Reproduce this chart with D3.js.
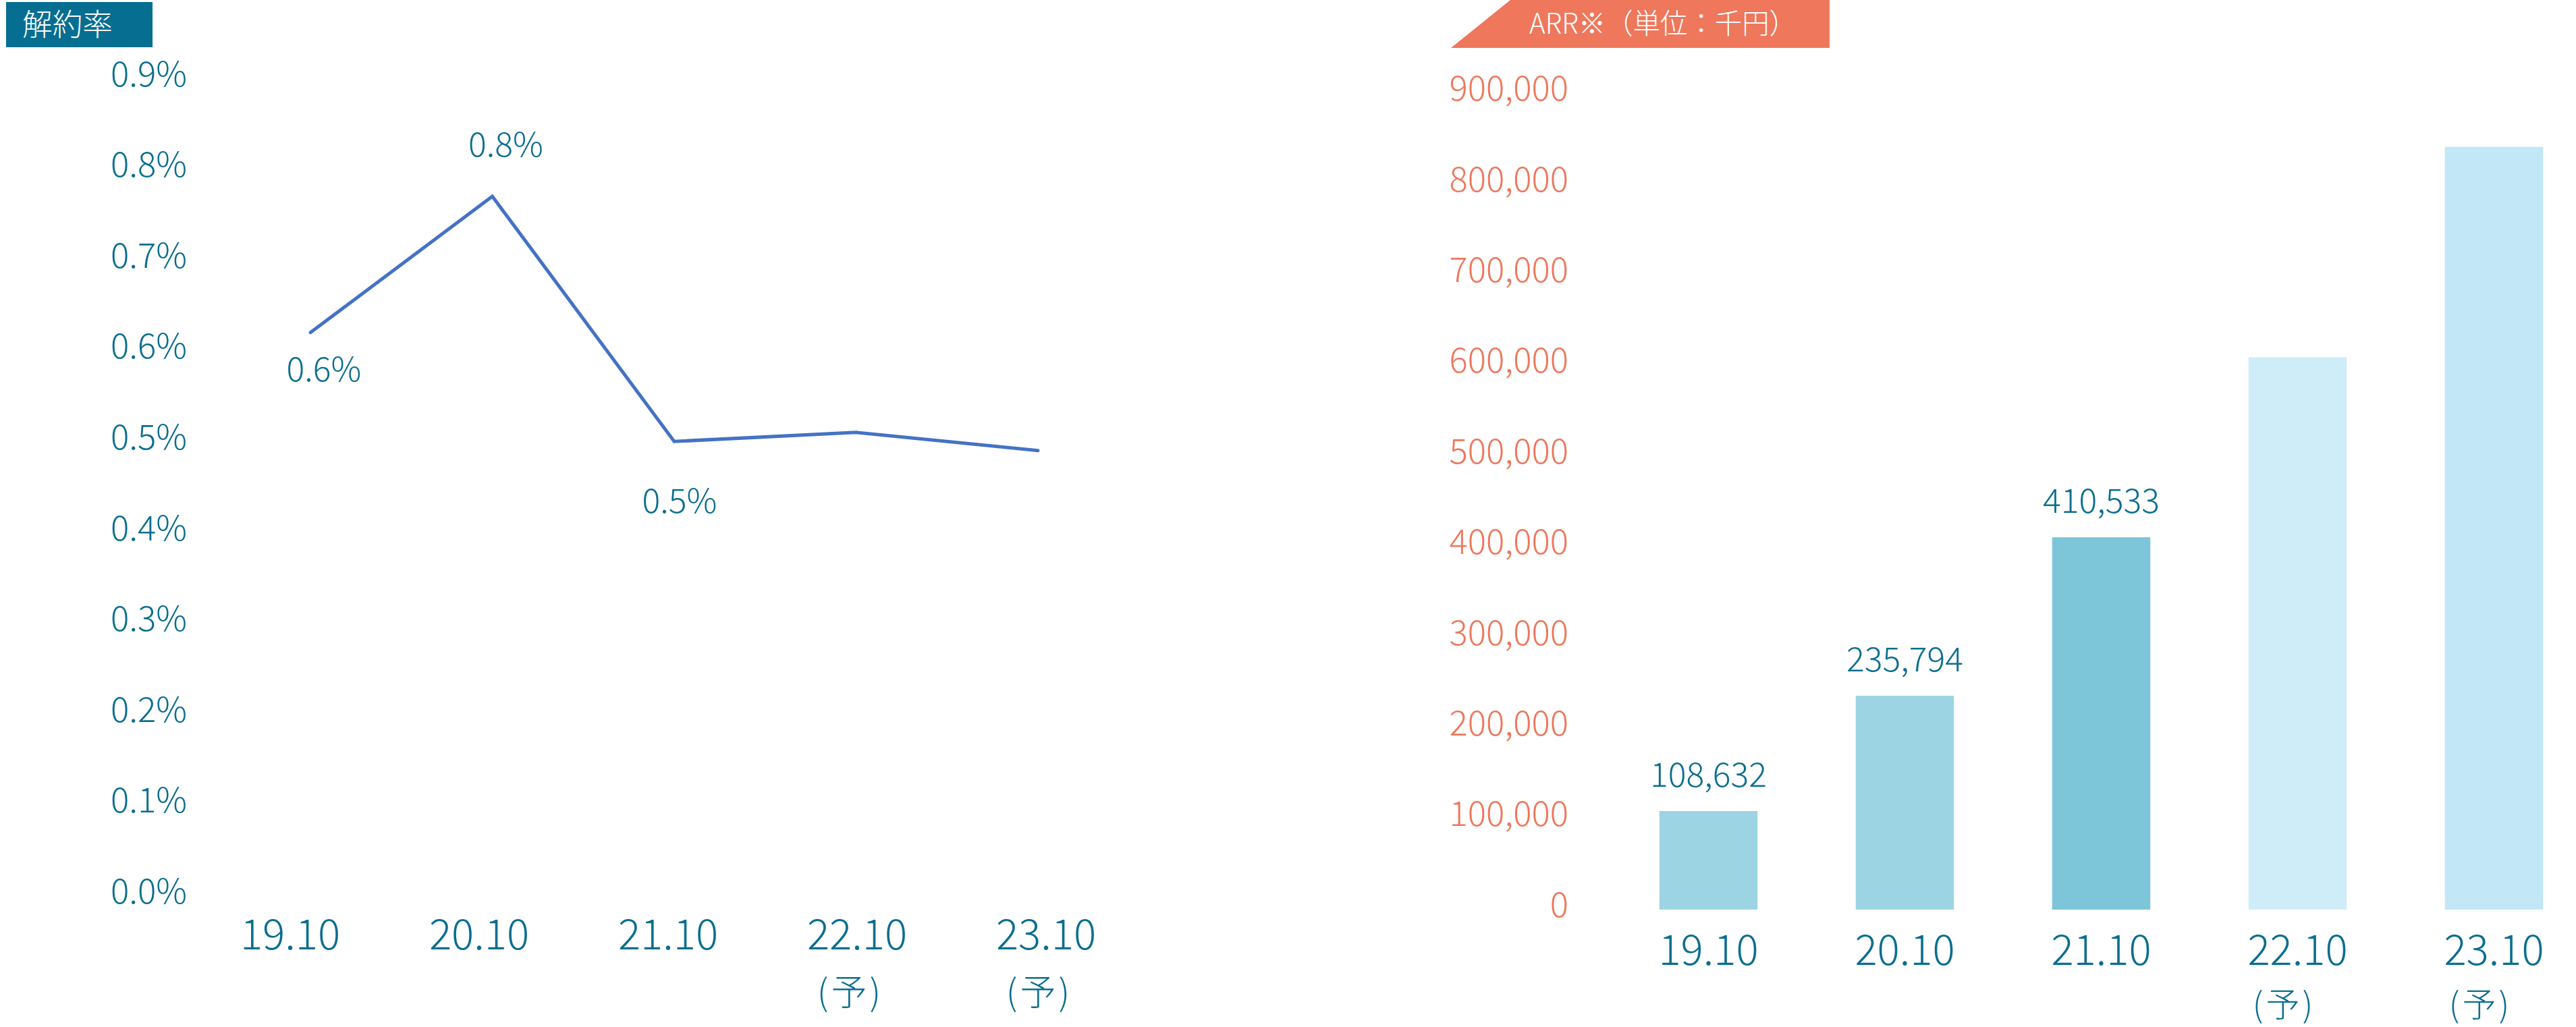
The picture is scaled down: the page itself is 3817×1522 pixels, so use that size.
<!DOCTYPE html>
<html>
<head>
<meta charset="utf-8">
<script src="https://cdn.jsdelivr.net/npm/d3@7"></script>
<style>
  html, body { margin: 0; padding: 0; background: #ffffff; }
  svg { display: block; }
  text { font-family: "Noto Sans CJK JP", "Noto Sans", sans-serif; font-weight: 300; }
</style>
</head>
<body>
<svg id="chart" width="3817" height="1522"></svg>
<script>
// ---------- data ----------
const categories = ["19.10", "20.10", "21.10", "22.10", "23.10"];
const forecastFlags = [false, false, false, true, true];
const forecastLabel = "(予)";
const churnRates = [0.62, 0.77, 0.50, 0.51, 0.49];          // %
const churnLabelShown = [true, true, true, false, false];
const churnTicks = [0, 0.1, 0.2, 0.3, 0.4, 0.5, 0.6, 0.7, 0.8, 0.9];
const arrValues = [108632, 235794, 410533, 609000, 841000]; // 千円
const arrLabelShown = [true, true, true, false, false];
const arrTicks = [0, 100000, 200000, 300000, 400000, 500000, 600000, 700000, 800000, 900000];
const leftTitle = "解約率";
const rightTitle = "ARR※（単位：千円）";

// ---------- styles ----------
const TEAL = "#0a6e8f";
const TITLE_BG = "#066e91";
const SALMON = "#ee775c";
const LINE_BLUE = "#4472c4";
const barColors = ["#9dd4e4", "#9dd4e4", "#7dc5d9", "#cfecf9", "#c2e7f7"];

const svg = d3.select("#chart");
svg.append("rect").attr("width", 3817).attr("height", 1522).attr("fill", "#fff");

// ================= LEFT: churn rate line =================
const xL = d3.scalePoint().domain(categories).range([460, 1538]);
const xLabL = d3.scalePoint().domain(categories).range([430, 1550]);
const yL = d3.scaleLinear().domain([0, 0.9]).range([1327, 116]);

// title box
svg.append("rect").attr("x", 9).attr("y", 3).attr("width", 217).attr("height", 67).attr("fill", TITLE_BG);
svg.append("text").attr("x", 33).attr("y", 53).attr("fill", "#fff")
  .attr("font-size", 45).attr("textLength", 134).attr("lengthAdjust", "spacingAndGlyphs")
  .text(leftTitle);

// y axis (labels only)
const yAxisL = d3.axisLeft(yL).tickValues(churnTicks).tickSize(0).tickPadding(0)
  .tickFormat(d => d3.format(".1f")(d) + "%");
const gyL = svg.append("g").attr("transform", "translate(277,0)").call(yAxisL);
gyL.select(".domain").remove();
gyL.selectAll("text").attr("fill", TEAL).attr("font-size", 51)
  .attr("font-family", '"Noto Sans CJK JP", sans-serif').attr("font-weight", 300)
  .attr("dy", "0.32em").attr("y", -5);

// x axis labels
const gxL = svg.append("g").attr("transform", "translate(0,1407)");
gxL.selectAll("g").data(categories).join("g")
  .attr("transform", d => `translate(${xLabL(d)},0)`)
  .each(function(d, i) {
    const t = d3.select(this);
    t.append("text").attr("text-anchor", "middle").attr("fill", TEAL)
      .attr("font-size", 62).attr("y", 0).text(d);
    if (forecastFlags[i]) {
      t.append("text").attr("text-anchor", "middle").attr("fill", TEAL)
        .attr("font-size", 53).attr("letter-spacing", 4).attr("x", -10).attr("y", 83).text(forecastLabel);
    }
  });

// line
const line = d3.line().x((d, i) => xL(categories[i])).y(d => yL(d));
svg.append("path").datum(churnRates).attr("d", line)
  .attr("fill", "none").attr("stroke", LINE_BLUE).attr("stroke-width", 5)
  .attr("stroke-linecap", "round").attr("stroke-linejoin", "miter");

// data labels: above local peaks, below otherwise
svg.append("g").selectAll("text").data(churnRates).join("text")
  .filter((d, i) => churnLabelShown[i])
  .attr("text-anchor", "middle").attr("fill", TEAL).attr("font-size", 50)
  .attr("x", (d, i) => xL(categories[i]) + (i === 2 ? 8 : 20))
  .attr("y", (d, i) => {
    const prev = i > 0 ? churnRates[i - 1] : -Infinity;
    const next = i < churnRates.length - 1 ? churnRates[i + 1] : -Infinity;
    const peak = d > prev && d > next;
    if (peak) return yL(d) - 59;
    return yL(d) + (i === 2 ? 106 : 72);
  })
  .text(d => d3.format(".1f")(d) + "%");

// ================= RIGHT: ARR bars =================
const xR = d3.scaleBand().domain(categories).range([2386, 3841]).paddingInner(0.5).paddingOuter(0.25);
const yR = d3.scaleLinear().domain([0, 900000]).range([1348, 138.4]);

// title box with slanted left edge
svg.append("path")
  .attr("d", "M2238,0 L2711,0 L2711,71 L2150,71 Z")
  .attr("fill", SALMON);
svg.append("text").attr("x", 2266).attr("y", 50).attr("fill", "#fff")
  .attr("font-size", 42).attr("textLength", 396).attr("lengthAdjust", "spacingAndGlyphs")
  .text(rightTitle);

// y axis labels
const yAxisR = d3.axisLeft(yR).tickValues(arrTicks).tickSize(0).tickPadding(0)
  .tickFormat(d3.format(","));
const gyR = svg.append("g").attr("transform", "translate(2324,0)").call(yAxisR);
gyR.select(".domain").remove();
gyR.selectAll("text").attr("fill", SALMON).attr("font-size", 51)
  .attr("font-family", '"Noto Sans CJK JP", sans-serif').attr("font-weight", 300)
  .attr("dy", "0.32em").attr("y", -6);

// bars
svg.append("g").selectAll("rect").data(arrValues).join("rect")
  .attr("x", (d, i) => xR(categories[i]))
  .attr("width", xR.bandwidth())
  .attr("y", d => yR(d))
  .attr("height", d => yR(0) - yR(d))
  .attr("fill", (d, i) => barColors[i]);

// bar value labels
svg.append("g").selectAll("text").data(arrValues).join("text")
  .filter((d, i) => arrLabelShown[i])
  .attr("text-anchor", "middle").attr("fill", TEAL).attr("font-size", 50)
  .attr("x", (d, i) => xR(categories[i]) + xR.bandwidth() / 2)
  .attr("y", d => yR(d) - 36)
  .text(d3.format(","));

// x axis labels
const xAxisR = d3.axisBottom(xR).tickSize(0).tickPadding(0).tickFormat(() => "");
const gxR = svg.append("g").attr("transform", "translate(0,1430)").call(xAxisR);
gxR.select(".domain").remove();
gxR.selectAll(".tick").each(function(d, i) {
  const t = d3.select(this);
  t.append("text").attr("text-anchor", "middle").attr("fill", TEAL)
    .attr("font-size", 62).attr("x", 0).attr("y", 0).text(d);
  if (forecastFlags[i]) {
    t.append("text").attr("text-anchor", "middle").attr("fill", TEAL)
      .attr("font-size", 50).attr("letter-spacing", 4).attr("x", -20).attr("y", 77).text(forecastLabel);
  }
});
</script>
</body>
</html>
